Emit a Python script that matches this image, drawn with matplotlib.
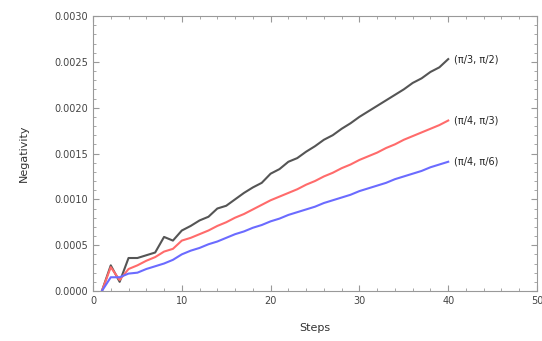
import matplotlib
matplotlib.use('Agg')
import matplotlib.pyplot as plt
from matplotlib.ticker import MultipleLocator, FormatStrFormatter

# steps 1..40
steps = list(range(1, 41))

neg_pi3_pi2 = [0, 0.00028, 0.00010, 0.00036, 0.00036, 0.00039, 0.00042, 0.00059, 0.00055, 0.00066,
               0.00071, 0.00077, 0.00081, 0.00090, 0.00093, 0.00100, 0.00107, 0.00113, 0.00118, 0.00128,
               0.00133, 0.00141, 0.00145, 0.00152, 0.00158, 0.00165, 0.00170, 0.00177, 0.00183, 0.00190,
               0.00196, 0.00202, 0.00208, 0.00214, 0.00220, 0.00227, 0.00232, 0.00239, 0.00244, 0.00253]

neg_pi4_pi3 = [0, 0.00026, 0.00012, 0.00024, 0.00028, 0.00033, 0.00037, 0.00043, 0.00046, 0.00055,
               0.00058, 0.00062, 0.00066, 0.00071, 0.00075, 0.00080, 0.00084, 0.00089, 0.00094, 0.00099,
               0.00103, 0.00107, 0.00111, 0.00116, 0.00120, 0.00125, 0.00129, 0.00134, 0.00138, 0.00143,
               0.00147, 0.00151, 0.00156, 0.00160, 0.00165, 0.00169, 0.00173, 0.00177, 0.00181, 0.00186]

neg_pi4_pi6 = [0, 0.00015, 0.00015, 0.00019, 0.00020, 0.00024, 0.00027, 0.00030, 0.00034, 0.00040,
               0.00044, 0.00047, 0.00051, 0.00054, 0.00058, 0.00062, 0.00065, 0.00069, 0.00072, 0.00076,
               0.00079, 0.00083, 0.00086, 0.00089, 0.00092, 0.00096, 0.00099, 0.00102, 0.00105, 0.00109,
               0.00112, 0.00115, 0.00118, 0.00122, 0.00125, 0.00128, 0.00131, 0.00135, 0.00138, 0.00141]

labels = ['(π/3, π/2)', '(π/4, π/3)', '(π/4, π/6)']
colors = ['#555555', '#ff6b6b', '#6b6bff']

fig = plt.figure(figsize=(5.42, 3.41), dpi=100)
ax = fig.add_axes([0.1716, 0.1466, 0.8192, 0.8064])

for ys, c, lab in zip([neg_pi3_pi2, neg_pi4_pi3, neg_pi4_pi6], colors, labels):
    ax.plot(steps, ys, color=c, lw=1.5)
    ax.annotate(lab, xy=(steps[-1], ys[-1]), xytext=(4.5, 0), textcoords='offset points',
                va='center', ha='left', fontsize=7, color='#222222')

ax.set_xlim(0, 50)
ax.set_ylim(0, 0.003)
ax.xaxis.set_major_locator(MultipleLocator(10))
ax.xaxis.set_minor_locator(MultipleLocator(2))
ax.yaxis.set_major_locator(MultipleLocator(0.0005))
ax.yaxis.set_minor_locator(MultipleLocator(0.0001))
ax.yaxis.set_major_formatter(FormatStrFormatter('%.4f'))

for s in ax.spines.values():
    s.set_color('#999999')
ax.tick_params(which='both', direction='in', top=True, right=True, colors='#999999',
               labelcolor='#444444', labelsize=7)
ax.tick_params(which='major', length=4)
ax.tick_params(which='minor', length=2)

ax.set_xlabel('Steps', fontsize=8, color='#333333', labelpad=12)
ax.set_ylabel('Negativity', fontsize=8, color='#333333', labelpad=18)

fig.savefig('out.png', dpi=100)
